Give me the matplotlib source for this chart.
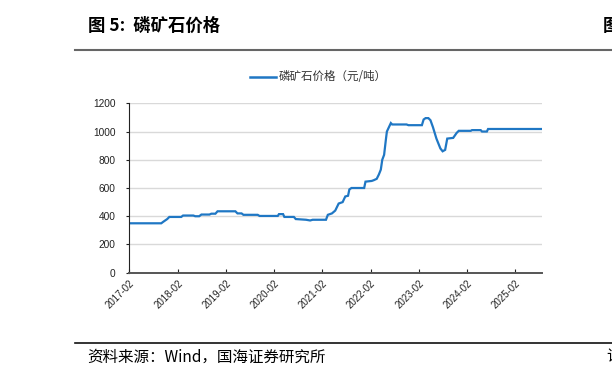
import matplotlib
matplotlib.use("Agg")
import matplotlib.pyplot as plt
import matplotlib.dates as mdates
import pandas as pd
from matplotlib.lines import Line2D

plt.rcParams['font.family'] = ['Liberation Sans', 'Noto Sans CJK SC', 'DejaVu Sans']

title = "图 5:  磷矿石价格"
source = "资料来源：Wind，国海证券研究所"
series_name = "磷矿石价格（元/吨）"

dates = [
    "2017-02-01", "2017-10-01", "2017-10-15", "2017-11-15", "2017-12-01", "2018-03-01",
    "2018-03-15", "2018-06-01", "2018-06-15", "2018-07-15", "2018-08-01", "2018-10-01",
    "2018-10-15", "2018-11-15", "2018-12-01", "2019-04-15", "2019-05-01", "2019-06-01",
    "2019-06-15", "2019-10-01", "2019-10-15", "2020-03-01", "2020-03-10", "2020-04-10",
    "2020-04-20", "2020-07-01", "2020-07-15", "2020-10-01", "2020-11-01", "2020-11-20",
    "2021-03-01", "2021-03-15", "2021-04-15", "2021-05-10", "2021-06-05", "2021-07-05",
    "2021-07-25", "2021-08-15", "2021-08-25", "2021-09-10", "2021-12-15", "2021-12-25",
    "2022-02-10", "2022-02-25", "2022-03-20", "2022-04-05", "2022-04-20", "2022-05-01",
    "2022-05-15", "2022-05-28", "2022-06-05", "2022-06-20", "2022-07-05", "2022-07-15",
    "2022-11-01", "2022-11-15", "2023-02-25", "2023-03-10", "2023-03-25", "2023-04-15",
    "2023-05-01", "2023-05-20", "2023-06-15", "2023-07-15", "2023-08-01", "2023-08-20",
    "2023-09-05", "2023-10-20", "2023-11-15", "2023-12-01", "2024-03-01", "2024-03-10",
    "2024-05-15", "2024-05-25", "2024-07-01", "2024-07-10", "2025-08-20",
]
prices = [
    350, 350, 360, 380, 395, 395,
    405, 405, 400, 400, 412, 412,
    418, 418, 435, 435, 420, 420,
    410, 410, 402, 402, 415, 415,
    395, 395, 380, 375, 370, 375,
    375, 410, 420, 440, 490, 500,
    540, 545, 590, 600, 600, 645,
    650, 655, 665, 695, 730, 800,
    835, 940, 1000, 1030, 1060, 1050,
    1050, 1045, 1045, 1085, 1095, 1095,
    1080, 1030, 950, 880, 860, 870,
    950, 955, 990, 1005, 1005, 1010,
    1010, 1000, 1000, 1018, 1018,
]
yticks = [0, 200, 400, 600, 800, 1000, 1200]
xtick_labels = ["2017-02", "2018-02", "2019-02", "2020-02", "2021-02",
                "2022-02", "2023-02", "2024-02", "2025-02"]

W, H = 612, 379
fig = plt.figure(figsize=(W / 100, H / 100), dpi=100)
ax = fig.add_axes([129.3 / W, 1 - 272.7 / H, (541.7 - 129.3) / W, (272.7 - 103.3) / H])

x = pd.to_datetime(dates)
line_color = "#1f77c4"
ax.plot(x, prices, color=line_color, lw=1.6, solid_joinstyle="miter")

ax.set_ylim(0, 1200)
ax.set_yticks(yticks)
ax.set_xlim(pd.Timestamp("2017-02-01"), pd.Timestamp("2025-08-20"))
ax.set_xticks(pd.to_datetime([d + "-01" for d in xtick_labels]))
ax.set_xticklabels(xtick_labels, rotation=45, ha="right", rotation_mode="anchor")
ax.tick_params(axis="x", direction="in", length=3, labelsize=7, pad=4, colors="#222222")
ax.tick_params(axis="y", direction="out", length=2, labelsize=7.3, pad=8, colors="#222222")
ax.grid(axis="y", color="#d9d9d9", lw=1)
ax.set_axisbelow(True)
for s in ["top", "right"]:
    ax.spines[s].set_visible(False)
ax.spines["left"].set_color("#222222")
ax.spines["bottom"].set_color("#555555")
ax.spines["bottom"].set_linewidth(1.4)

# legend
fig.add_artist(Line2D([250 / W, 276 / W], [1 - 77 / H, 1 - 77 / H], color=line_color, lw=1.8))
fig.text(279 / W, 1 - 77 / H, series_name, fontsize=8.3, va="center", ha="left",
         color="#333333", family=["Noto Sans CJK SC", "DejaVu Sans"])

# title and rules
fig.text(88 / W, 1 - 26 / H, title, fontsize=12.5, fontweight="bold", va="center", ha="left",
         family=["Noto Sans CJK SC", "DejaVu Sans"])
fig.text(603 / W, 1 - 26 / H, "图", fontsize=12.5, fontweight="bold", va="center", ha="left",
         family=["Noto Sans CJK SC", "DejaVu Sans"])
fig.add_artist(Line2D([75 / W, 1], [1 - 50 / H, 1 - 50 / H], color="#666666", lw=1.5))
fig.add_artist(Line2D([75 / W, 1], [1 - 343 / H, 1 - 343 / H], color="#111111", lw=1.2))
fig.text(87 / W, 1 - 357 / H, source, fontsize=11.2, va="center", ha="left",
         family=["Noto Sans CJK SC", "DejaVu Sans"])
fig.text(606 / W, 1 - 357 / H, "请", fontsize=11.2, va="center", ha="left",
         family=["Noto Sans CJK SC", "DejaVu Sans"])

fig.savefig("out.png", dpi=100)
